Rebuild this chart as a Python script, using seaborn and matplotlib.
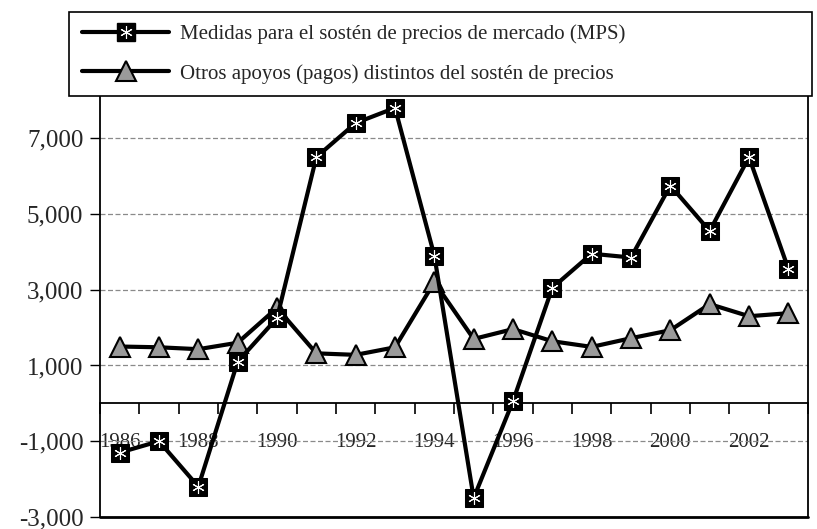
import numpy as np
import pandas as pd
import matplotlib.pyplot as plt
import seaborn as sns
from matplotlib.lines import Line2D
from matplotlib.ticker import FixedLocator, FuncFormatter

# Dades llegides del gràfic
years = list(range(1986, 2004))
mps = [-1300, -1000, -2200, 1100, 2250, 6500, 7400, 7800, 3900, -2500,
       60, 3050, 3950, 3850, 5750, 4550, 6500, 3550]
otros = [1500, 1480, 1430, 1600, 2520, 1320, 1280, 1480, 3200, 1700,
         1960, 1640, 1490, 1720, 1930, 2620, 2300, 2380]
y_ticks = [-3000, -1000, 1000, 3000, 5000, 7000]
label_mps = "Medidas para el sostén de precios de mercado (MPS)"
label_otros = "Otros apoyos (pagos) distintos del sostén de precios"

df = pd.DataFrame({"Any": years, "MPS": mps, "Otros": otros})

sns.set_style("white")
plt.rcParams["font.family"] = ["Liberation Serif", "DejaVu Serif"]

fig = plt.figure(figsize=(8.17, 5.29), dpi=100)
ax = fig.add_axes([0.1224, 0.0227, 0.8666, 0.797])

# --------- Sèries ---------
sns.lineplot(data=df, x="Any", y="Otros", color="black", lw=3, marker="^",
             markersize=15, markerfacecolor="#9a9a9a", markeredgecolor="black",
             markeredgewidth=1.5, ax=ax, zorder=3)
sns.lineplot(data=df, x="Any", y="MPS", color="black", lw=3, marker="s",
             markersize=12.5, markerfacecolor="black", markeredgecolor="black",
             ax=ax, zorder=4)
sns.lineplot(data=df, x="Any", y="MPS", linestyle="none", marker=(6, 2, 0),
             markersize=9, markeredgecolor="white", markeredgewidth=0.8,
             color="white", ax=ax, zorder=5)

# --------- Eixos ---------
ax.set_xlim(1985.5, 2003.5)
ax.set_ylim(-3000, 8130)
ax.set_xlabel("")
ax.set_ylabel("")

ax.yaxis.set_major_locator(FixedLocator(y_ticks))
ax.yaxis.set_major_formatter(FuncFormatter(lambda v, p: f"{int(v):,}"))
ax.tick_params(axis="y", direction="out", length=7, width=1, pad=5,
               labelsize=18, left=True, color="black")
ax.yaxis.grid(True, color="#8a8a8a", linestyle=(0, (4, 2)), lw=0.9)
ax.set_axisbelow(True)

# eix x a la línia del zero
ax.spines["bottom"].set_position(("data", 0))
ax.xaxis.set_major_locator(FixedLocator(np.arange(1985.5, 2004, 1)))
ax.xaxis.set_major_formatter(FuncFormatter(lambda v, p: ""))
ax.xaxis.set_minor_locator(FixedLocator(years[::2]))
ax.xaxis.set_minor_formatter(FuncFormatter(lambda v, p: f"{int(round(v))}"))
ax.tick_params(axis="x", which="major", direction="out", length=8, width=1.2,
               bottom=True, color="black")
ax.tick_params(axis="x", which="minor", length=0, pad=21, labelsize=15)

for s in ["left", "right", "top", "bottom"]:
    ax.spines[s].set_color("black")
    ax.spines[s].set_linewidth(1.3)
ax.axhline(-3000, color="black", lw=2, clip_on=False, zorder=6)

# --------- Llegenda ---------
h_mps = (Line2D([], [], color="black", lw=3, marker="s", markersize=12.5),
         Line2D([], [], linestyle="none", marker=(6, 2, 0), markersize=9,
                markeredgecolor="white", markeredgewidth=0.8))
h_otros = Line2D([], [], color="black", lw=3, marker="^", markersize=15,
                 markerfacecolor="#9a9a9a", markeredgecolor="black",
                 markeredgewidth=1.5)
leg = fig.legend([h_mps, h_otros], [label_mps, label_otros],
                 loc="lower left", bbox_to_anchor=(0.085, 0.818, 0.909, 0.163),
                 mode="expand", borderaxespad=0, fontsize=15, numpoints=1,
                 handlelength=4.2, handletextpad=0.5, labelspacing=0.95,
                 borderpad=0.6, fancybox=False, frameon=True,
                 edgecolor="black", framealpha=1)
leg.get_frame().set_linewidth(1.2)

fig.savefig("out.png", dpi=100)
